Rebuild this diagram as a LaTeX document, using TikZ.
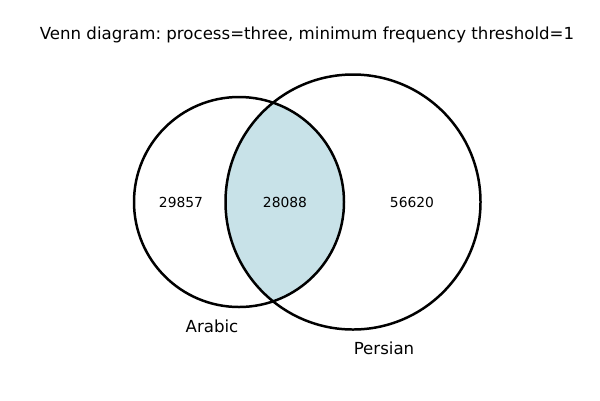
\documentclass[tikz,border=0pt]{standalone}
\usepackage{fontspec}
\setmainfont{DejaVu Sans}
\usepackage{xcolor}
\usetikzlibrary{positioning}
\definecolor{overlapblue}{RGB}{200,226,232}
\frenchspacing

\begin{document}
\begin{tikzpicture}[
    x=0.01in, y=-0.01in,
    setline/.style={line width=1.8pt, draw=black},
    count/.style={font=\fontsize{10}{12}\selectfont, inner sep=0pt},
    setname/.style={font=\fontsize{12}{14}\selectfont, inner sep=0pt}
]
\useasboundingbox (0,0) rectangle (600,400);

% Title
\node[font=\fontsize{12}{14}\selectfont, inner sep=0pt] (title) at (307,35) {Venn diagram: process=three, minimum frequency threshold=1};

% Overlap
\begin{scope}
\clip (239,202) circle (105);
\fill[overlapblue] (353,202) circle (127.5);
\end{scope}

% Circles
\draw[setline] (239,202) circle (105);
\draw[setline] (353,202) circle (127.5);

% Counts
\node[count] (onlyarabic) at (181,202) {29857};
\node[count] (both) at (285,202) {28088};
\node[count] (onlypersian) at (412,202) {56620};

% Set names
\node[setname] (arabic) at (212,326) {Arabic};
\node[setname] (persian) at (384,348) {Persian};

\end{tikzpicture}
\end{document}
